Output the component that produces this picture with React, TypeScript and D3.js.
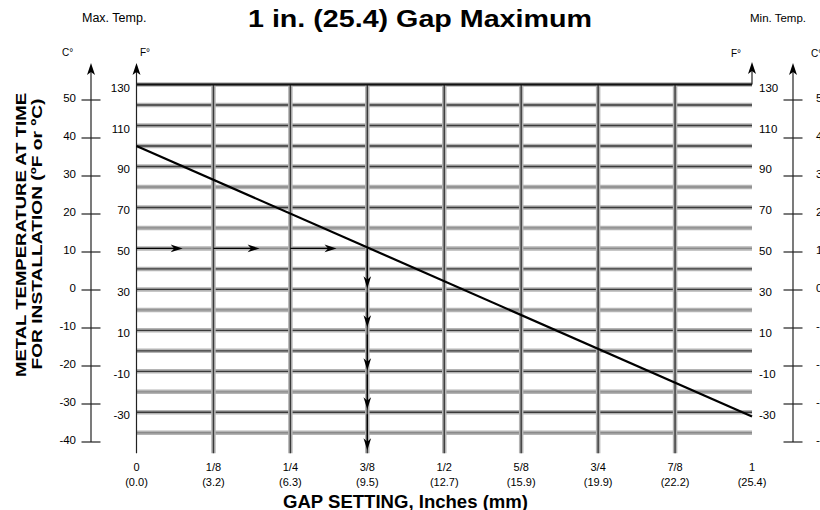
import React from "react";
import * as d3 from "d3";

const gapTicks = [0, 0.125, 0.25, 0.375, 0.5, 0.625, 0.75, 0.875, 1];
const gapFractions = ["0", "1/8", "1/4", "3/8", "1/2", "5/8", "3/4", "7/8", "1"];
const gapMm = ["(0.0)", "(3.2)", "(6.3)", "(9.5)", "(12.7)", "(15.9)", "(19.9)", "(22.2)", "(25.4)"];
const fGridLines = [130, 120, 110, 100, 90, 80, 70, 60, 50, 40, 30, 20, 10, 0, -10, -20, -30, -40];
const fLightLines = [80, 60, 50, 20, -20, -40];
const fLabels = [130, 110, 90, 70, 50, 30, 10, -10, -30];
const cTicks = [50, 40, 30, 20, 10, 0, -10, -20, -30, -40];
const lineGap = [0, 1];
const lineTemp = [100, -32];
const exampleTemp = 50;
const exampleGap = 0.375;
const hArrowSegs: [number, number][] = [[0, 0.075], [0.125, 0.2], [0.25, 0.325]];
const vArrowSegs: [number, number][] = [[50, 30.5], [28.5, 11.5], [8, -9.5], [-11.5, -28.5], [-31, -48.5]];

const FONT = "'Liberation Sans', Arial, Helvetica, sans-serif";

export default function App() {
  const x = d3.scaleLinear().domain([0, 1]).range([136.5, 752]);
  const yF = d3.scaleLinear().domain([-50, 130]).range([453.3, 84.5]);
  const yC = d3.scaleLinear().domain([-40, 50]).range([442, 100]);
  const line = d3.line<number>().x((d, i) => x(lineGap[i])).y((d) => yF(d));
  const top = yF(130);
  const bottom = yF(-50);
  const xL = x(0);
  const xR = x(1);
  const cL = 91;
  const cR = 793;

  const arrowTip = (tx: number, ty: number, dir: "right" | "down", key: string) => {
    const p = "M0,0 L-12,-3.8 L-8.5,0 L-12,3.8 Z";
    const rot = dir === "right" ? 0 : 90;
    return <path key={key} d={p} transform={`translate(${tx},${ty}) rotate(${rot})`} fill="#000" />;
  };
  const axisArrow = (ax: number, ay: number, key: string) => (
    <path key={key} d="M0,0 L-4,12 L0,9 L4,12 Z" transform={`translate(${ax},${ay})`} fill="#000" />
  );

  return (
    <svg width={820} height={510} style={{ position: "absolute", left: 0, top: 0, background: "#fff" }} fontFamily={FONT}>
      <rect x={0} y={0} width={820} height={510} fill="#fff" />
      <text x={420} y={27} textAnchor="middle" fontSize={23} fontWeight="bold" textLength={344} lengthAdjust="spacingAndGlyphs">1 in. (25.4) Gap Maximum</text>
      <text x={82} y={22} fontSize={12.5}>Max. Temp.</text>
      <text x={750} y={22} fontSize={11.5}>Min. Temp.</text>
      <text x={62} y={56} fontSize={10}>C°</text>
      <text x={140} y={56} fontSize={10}>F°</text>
      <text x={731} y={57} fontSize={10}>F°</text>
      <text x={811} y={57} fontSize={10}>C°</text>

      {/* horizontal grid */}
      {fGridLines.map((v) => {
        const light = fLightLines.includes(v);
        return (
          <g key={"h" + v}>
            <line x1={xL} x2={xR} y1={yF(v)} y2={yF(v)} stroke="#b4b4b4" strokeWidth={4.5} />
            <line x1={xL} x2={xR} y1={yF(v)} y2={yF(v)} stroke={light ? "#8a8a8a" : "#3a3a3a"} strokeWidth={1.4} />
          </g>
        );
      })}
      {/* vertical grid */}
      {gapTicks.slice(1, -1).map((g) => (
        <g key={"v" + g}>
          <line x1={x(g)} x2={x(g)} y1={top} y2={bottom} stroke="#b4b4b4" strokeWidth={4.5} />
          <line x1={x(g)} x2={x(g)} y1={top} y2={bottom} stroke="#3a3a3a" strokeWidth={1.4} />
        </g>
      ))}
      <line x1={xL} x2={xR} y1={top} y2={top} stroke="#111" strokeWidth={2} />
      {/* F axes */}
      <line x1={xL} x2={xL} y1={66} y2={bottom} stroke="#222" strokeWidth={1.2} />
      {axisArrow(xL, 63, "al")}
      <line x1={xR} x2={xR} y1={66} y2={top} stroke="#222" strokeWidth={1.2} />
      {axisArrow(xR, 62, "ar")}
      {fLabels.map((v) => (
        <g key={"fl" + v}>
          <text x={130} y={yF(v) + 4} textAnchor="end" dominantBaseline="middle" fontSize={11.5}>{v}</text>
          <text x={759} y={yF(v) + 4} textAnchor="start" dominantBaseline="middle" fontSize={11.5}>{v}</text>
        </g>
      ))}
      {/* C axes */}
      {[cL, cR].map((cx, k) => (
        <g key={"c" + k}>
          <line x1={cx} x2={cx} y1={66} y2={yC(-40)} stroke="#222" strokeWidth={1.2} />
          {axisArrow(cx, 63, "ac" + k)}
          {cTicks.map((v) => (
            <line key={v} x1={cx - 9.5} x2={cx + 9.5} y1={yC(v)} y2={yC(v)} stroke="#222" strokeWidth={1.2} />
          ))}
          {cTicks.map((v) => (
            <text key={"t" + v} x={k === 0 ? 76 : 816} y={yC(v) - 1} textAnchor={k === 0 ? "end" : "start"} dominantBaseline="middle" fontSize={11.5}>{v}</text>
          ))}
        </g>
      ))}

      {/* main line */}
      <path d={line(lineTemp) || ""} fill="none" stroke="#000" strokeWidth={2.2} />

      {/* example arrows */}
      {hArrowSegs.map(([a, b], i) => (
        <g key={"ha" + i}>
          <line x1={x(a)} x2={x(b) - 6} y1={yF(exampleTemp)} y2={yF(exampleTemp)} stroke="#000" strokeWidth={1.3} />
          {arrowTip(x(b), yF(exampleTemp), "right", "hat" + i)}
        </g>
      ))}
      {vArrowSegs.map(([a, b], i) => (
        <g key={"va" + i}>
          <line x1={x(exampleGap)} x2={x(exampleGap)} y1={yF(a)} y2={yF(b) - 6} stroke="#000" strokeWidth={1.3} />
          {arrowTip(x(exampleGap), yF(b), "down", "vat" + i)}
        </g>
      ))}

      {/* x labels */}
      {gapTicks.map((g, i) => (
        <g key={"xl" + i}>
          <text x={x(g)} y={471} textAnchor="middle" fontSize={11}>{gapFractions[i]}</text>
          <text x={x(g)} y={486} textAnchor="middle" fontSize={11}>{gapMm[i]}</text>
        </g>
      ))}
      <text x={405.5} y={508} textAnchor="middle" fontSize={18.5} fontWeight="bold" textLength={245} lengthAdjust="spacingAndGlyphs">GAP SETTING, Inches (mm)</text>
      <g transform="translate(0,235) rotate(-90)">
        <text x={0} y={26} textAnchor="middle" fontSize={15.5} fontWeight="bold" textLength={284} lengthAdjust="spacingAndGlyphs">METAL TEMPERATURE AT TIME</text>
        <text x={1} y={42} textAnchor="middle" fontSize={15.5} fontWeight="bold" textLength={271} lengthAdjust="spacingAndGlyphs">FOR INSTALLATION (ºF or ºC)</text>
      </g>
    </svg>
  );
}
